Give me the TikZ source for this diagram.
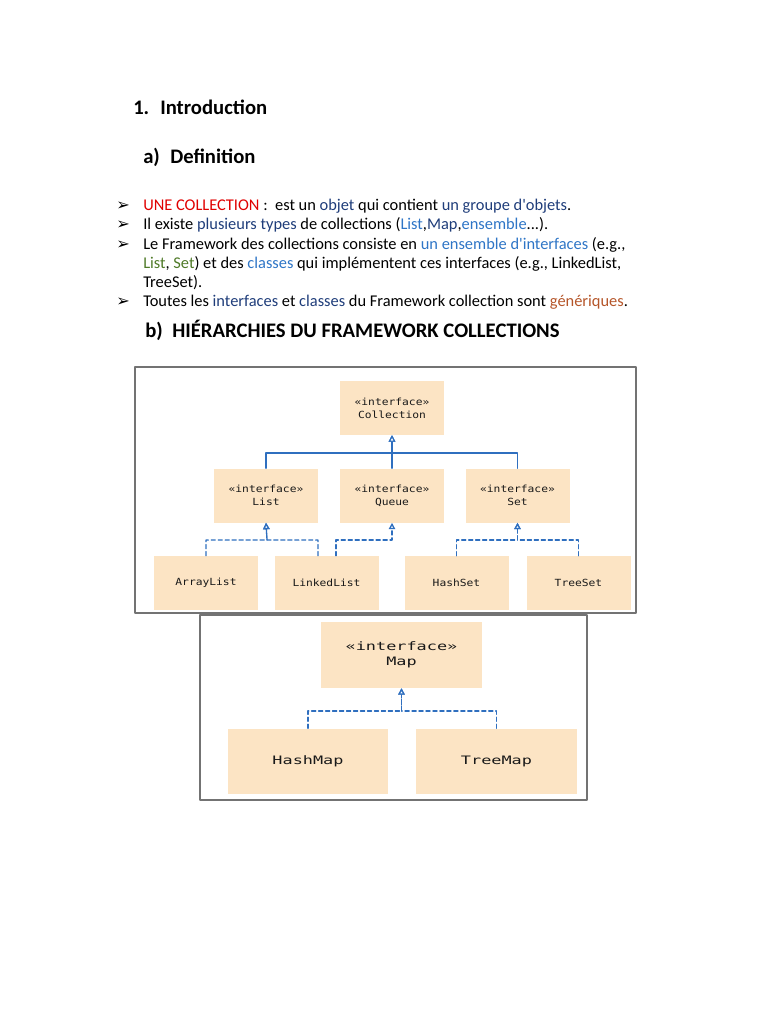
\documentclass[tikz,border=0pt]{standalone}
\usepackage{fontspec}
\setmainfont{Carlito}[Ligatures=TeXOff]
\newfontfamily\dingfont{DejaVu Sans}
\newfontfamily\umlfont[FakeStretch=1.15]{DejaVu Sans Mono}
\newfontfamily\umlwide[FakeStretch=1.45]{DejaVu Sans Mono}
\usetikzlibrary{arrows.meta}

\definecolor{colred}{HTML}{E00000}
\definecolor{coldark}{HTML}{1F3D7A}
\definecolor{collight}{HTML}{2E75C6}
\definecolor{colgreen}{HTML}{4F7A28}
\definecolor{colbrown}{HTML}{B5562A}
\definecolor{boxfill}{HTML}{FCE4C4}
\definecolor{umlblue}{HTML}{2F6FBF}

\begin{document}
\begin{tikzpicture}[x = 0.774pt, y = -0.774pt, line cap = round, line join = round,
        heading/.style={anchor = base west, inner sep = 0pt, font = \fontsize{16}{19}\selectfont\bfseries},
        bodyline/.style={anchor = base west, inner sep = 0pt, font = \fontsize{12.7}{15}\selectfont},
        bullet/.style={anchor = base west, inner sep = 0pt, font = \dingfont\fontsize{12.5}{14}\selectfont},
        frame/.style={draw = black!55, line width = 1.3pt, fill = white},
        umlbox/.style={fill = boxfill, minimum width = 80.5pt, minimum height = 41.8pt, align = center, inner sep = 0pt, text = black!90, font = \umlfont\fontsize{7.6}{10}\selectfont},
        mapbox/.style={fill = boxfill, minimum width = 124.6pt, minimum height = 51pt, align = center, inner sep = 0pt, text = black!90, font = \umlwide\fontsize{9}{11.5}\selectfont},
        extends/.style={draw = umlblue, line width = 0.9pt, -{Triangle[open, length = 5pt, width = 5pt, fill = white]}},
        implements/.style={extends, line width = 1pt, dash pattern = on 3.2pt off 2.2pt}]
        %
        \def\JoinOne{453}
        \def\JoinTwo{540}
        \def\JoinMap{711}

        \useasboundingbox (0, 0) rectangle (768, 1024);

        % titles
        \node [heading] (num1) at (133, 114.5) {1.};
        \node [heading] (intro) at (160, 114.5) {Introduction};
        \node [heading] (numa) at (143, 163.5) {a)};
        \node [heading] (defn) at (170, 163.5) {Definition};
        \node [heading] (numb) at (145, 337.5) {b)};
        \node [heading] (hier) at (172, 337.5) {HIÉRARCHIES DU FRAMEWORK COLLECTIONS};

        % bullet list
        \foreach \yy in {210.5, 229.8, 249, 306.7}
        {
            \node [bullet] (mark\yy) at (116, \yy) {➢};
        }
        \node [bodyline] (line1) at (143, 210.5) {\textcolor{colred}{UNE COLLECTION} :\ \ est un \textcolor{coldark}{objet} qui contient \textcolor{coldark}{un groupe d'objets}.};
        \node [bodyline] (line2) at (143, 229.8) {Il existe \textcolor{coldark}{plusieurs types} de collections (\textcolor{collight}{List},\textcolor{coldark}{Map},\textcolor{collight}{ensemble}...).};
        \node [bodyline] (line3) at (143, 249) {Le Framework des collections consiste en \textcolor{collight}{un ensemble d'interfaces} (e.g.,};
        \node [bodyline] (line4) at (143, 268.3) {\textcolor{colgreen}{List}, \textcolor{colgreen}{Set}) et des \textcolor{collight}{classes} qui implémentent ces interfaces (e.g., LinkedList,};
        \node [bodyline] (line5) at (143, 287.5) {TreeSet).};
        \node [bodyline] (line6) at (143, 306.7) {Toutes les \textcolor{coldark}{interfaces} et \textcolor{coldark}{classes} du Framework collection sont \textcolor{colbrown}{génériques}.};

        % collection hierarchy
        \draw [frame] (135, 367) rectangle (636, 613);
        \node [umlbox] (coll) at (392, 408) {«interface»\\Collection};
        \foreach \name/\xx/\txt in {list/266/List, queue/392/Queue, set/517.5/Set}
        {
            \node [umlbox] (\name) at (\xx, 495.5) {«interface»\\\txt};
        }
        \foreach \name/\xx/\txt in {arrayl/206/ArrayList, linkedl/326.5/LinkedList, hashs/456.5/HashSet, trees/578.5/TreeSet}
        {
            \node [umlbox] (\name) at (\xx, 583) {\txt};
        }
        \coordinate (jcoll) at (392, \JoinOne);
        \coordinate (jlist) at (267, \JoinTwo);
        \coordinate (jqueue) at (392, \JoinTwo);
        \coordinate (jset) at (517.5, \JoinTwo);
        \foreach \child in {list, queue, set}
        {
            \draw [extends] (\child.north) |- (jcoll) -- (coll.south);
        }
        \draw [implements] (arrayl.north) |- (jlist) -- (list.south);
        \draw [implements] ([xshift = -8.5*0.774pt]linkedl.north) |- (jlist) -- (list.south);
        \draw [implements] ([xshift = 9.5*0.774pt]linkedl.north) |- (jqueue) -- (queue.south);
        \draw [implements] (hashs.north) |- (jset) -- (set.south);
        \draw [implements] (trees.north) |- (jset) -- (set.south);

        % map hierarchy
        \draw [frame] (200, 615) rectangle (587, 800);
        \node [mapbox] (map) at (401.5, 655) {«interface»\\Map};
        \node [mapbox] (hashm) at (308, 761.5) {HashMap};
        \node [mapbox] (treem) at (496.5, 761.5) {TreeMap};
        \coordinate (jmap) at (401.5, \JoinMap);
        \draw [implements] (hashm.north) |- (jmap) -- (map.south);
        \draw [implements] (treem.north) |- (jmap) -- (map.south);
    \end{tikzpicture}
\end{document}
